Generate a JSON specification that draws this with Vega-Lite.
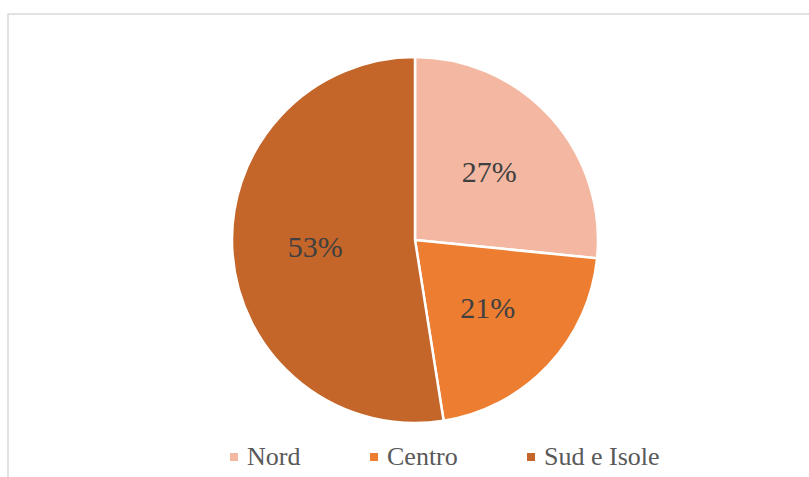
{
  "$schema": "https://vega.github.io/schema/vega-lite/v6.json",
  "width": 814,
  "height": 480,
  "autosize": {"type": "none"},
  "padding": {"left": 8, "top": 14, "right": 0, "bottom": 0},
  "background": "white",
  "view": {"stroke": "#d9d9d9", "strokeWidth": 1.5, "fill": "white"},
  "data": {
    "values": [
      {"region": "Nord", "value": 26.6, "label": "27%", "ord": 1},
      {"region": "Centro", "value": 20.9, "label": "21%", "ord": 2},
      {"region": "Sud e Isole", "value": 52.5, "label": "53%", "ord": 3}
    ]
  },
  "encoding": {
    "theta": {"field": "value", "type": "quantitative", "stack": true},
    "order": {"field": "ord", "type": "quantitative"}
  },
  "layer": [
    {
      "mark": {"type": "arc", "outerRadius": 183, "stroke": "white", "strokeWidth": 2.5, "y": {"expr": "height/2 - 14"}},
      "encoding": {
        "color": {
          "field": "region",
          "type": "nominal",
          "sort": ["Nord", "Centro", "Sud e Isole"],
          "scale": {"domain": ["Nord", "Centro", "Sud e Isole"], "range": ["#F4B8A2", "#ED7D31", "#C4652A"]},
          "legend": {
            "title": null,
            "orient": "none",
            "legendX": 213,
            "legendY": 430,
            "padding": 0,
            "direction": "horizontal",
            "symbolType": "square",
            "symbolSize": 64,
            "symbolStrokeWidth": 0,
            "labelFont": "'Liberation Serif', 'DejaVu Serif', serif",
            "labelFontSize": 26,
            "labelColor": "#595959",
            "labelOffset": 0,
            "columnPadding": 60
          }
        }
      }
    },
    {
      "mark": {"type": "text", "radius": 100, "font": "'Liberation Serif', 'DejaVu Serif', serif", "fontSize": 30, "color": "#404040", "y": {"expr": "height/2 - 14"}},
      "encoding": {"text": {"field": "label", "type": "nominal"}}
    }
  ]
}
